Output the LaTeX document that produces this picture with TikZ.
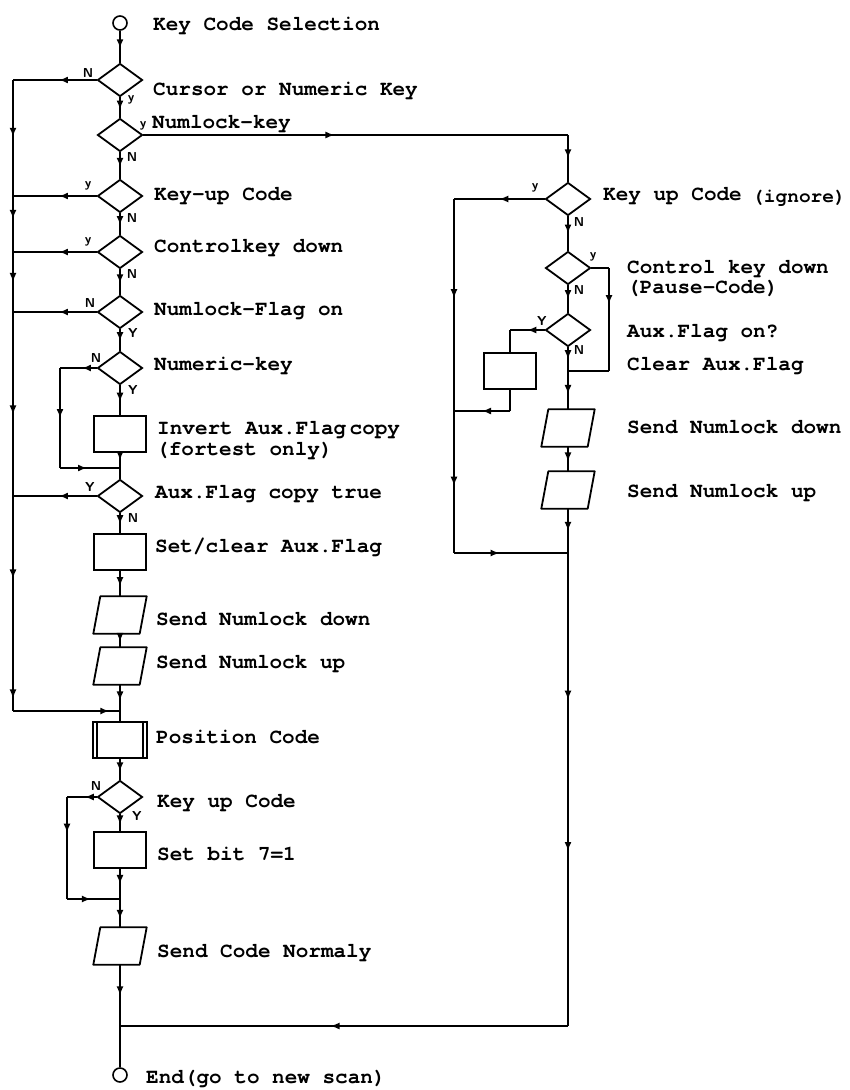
\documentclass[tikz,border=0pt]{standalone}
\usepackage{fontspec}
\newfontfamily\cursorfont{texgyrecursor-bold.otf}
\usetikzlibrary{arrows.meta, shapes.geometric, decorations.markings}

\begin{document}
\begin{tikzpicture}[
  x=1pt, y=-1pt,
  >={Latex[length=9pt, width=7pt]},
  txt/.style={anchor=base west, inner sep=0pt, font=\cursorfont\fontsize{21}{24}\selectfont},
  yn/.style={inner sep=0pt, font=\fontsize{13}{14}\selectfont\sffamily\bfseries},
  decision/.style={diamond, draw, line width=1.8pt, minimum width=45pt, minimum height=33pt, inner sep=0pt},
  process/.style={rectangle, draw, line width=1.8pt, minimum width=52pt, minimum height=36pt, inner sep=0pt},
  io/.style={rectangle, minimum width=46pt, minimum height=37pt, inner sep=0pt,
             append after command={\pgfextra{\draw[line width=1.8pt, line join=round]
               ([xshift=-3.5pt]\tikzlastnode.south west) -- ([xshift=3.5pt]\tikzlastnode.north west)
               -- ([xshift=3.5pt]\tikzlastnode.north east) -- ([xshift=-3.5pt]\tikzlastnode.south east) -- cycle;}}},
  subproc/.style={process, minimum width=54pt, path picture={
      \draw[line width=1.5pt] ([xshift=4pt]path picture bounding box.north west) -- ([xshift=4pt]path picture bounding box.south west)
                              ([xshift=-4pt]path picture bounding box.north east) -- ([xshift=-4pt]path picture bounding box.south east);}},
  terminal/.style={circle, draw, line width=1.6pt, minimum size=14pt, inner sep=0pt},
  flow/.style={line width=1.6pt},
  arrat/.style={postaction={decorate, decoration={markings, mark=at position #1 with {\arrow{>}}}}},
]
\useasboundingbox (0,0) rectangle (849,1090);

% ---- left column ----
\node[terminal] (start)  at (120,23)  {};
\node[decision] (d1)     at (120,80)  {};
\node[decision] (d2)     at (120,135) {};
\node[decision] (d3)     at (120,196) {};
\node[decision] (d4)     at (120,252) {};
\node[decision] (d5)     at (120,312) {};
\node[decision] (d6)     at (120,368) {};
\node[process]  (inv)    at (120,434) {};
\node[decision] (d7)     at (120,496) {};
\node[process]  (setclr) at (120,552) {};
\node[io]       (nldown) at (120,615) {};
\node[io]       (nlup)   at (120,666) {};
\node[subproc]  (pos)    at (120,740) {};
\node[decision] (d8)     at (120,797) {};
\node[process]  (bit7)   at (120,850) {};
\node[io]       (sendc)  at (120,946) {};
\node[terminal] (stop)   at (120,1075) {};

% ---- right column ----
\node[decision] (r1)    at (568,199) {};
\node[decision] (r2)    at (568,268) {};
\node[decision] (r3)    at (568,330) {};
\node[process]  (clr)   at (510,371) {};
\node[io]       (rdown) at (568,428) {};
\node[io]       (rup)   at (568,490) {};

% ---- texts ----
\node[txt] (t-start)  at (153,30)  {Key Code Selection};
\node[txt] (t-d1)     at (153,95)  {Cursor or Numeric Key};
\node[txt] (t-d2)     at (152,128) {Numlock-key};
\node[txt] (t-d3)     at (154,200) {Key-up Code};
\node[txt] (t-d4)     at (154,252) {Controlkey down};
\node[txt] (t-d5)     at (154,315) {Numlock-Flag on};
\node[txt] (t-d6)     at (154,370) {Numeric-key};
\node[txt] (t-inv)    at (157,434) {Invert Aux.Flag\,copy};
\node[txt] (t-inv2)   at (156,455) {(fortest only)};
\node[txt] (t-d7)     at (155,498) {Aux.Flag copy true};
\node[txt] (t-setclr) at (155,552) {Set/clear Aux.Flag};
\node[txt] (t-nldown) at (156,625) {Send Numlock down};
\node[txt] (t-nlup)   at (156,668) {Send Numlock up};
\node[txt] (t-pos)    at (156,743) {Position Code};
\node[txt] (t-d8)     at (157,807) {Key up Code};
\node[txt] (t-bit7)   at (157,860) {Set bit 7=1};
\node[txt] (t-sendc)  at (157,957) {Send Code Normaly};
\node[txt] (t-stop)   at (146,1083) {End(go to new scan)};
\node[txt] (t-r1)     at (603,200) {Key up Code};
\node[txt, font=\cursorfont\fontsize{19.5}{22}\selectfont] (t-r1b) at (752,202) {(ignore)};
\node[txt] (t-r2)     at (627,273) {Control key down};
\node[txt] (t-r2b)    at (627,293) {(Pause-Code)};
\node[txt] (t-r3)     at (627,337) {Aux.Flag on?};
\node[txt] (t-clr)    at (627,370) {Clear Aux.Flag};
\node[txt] (t-rdown)  at (627,433) {Send Numlock down};
\node[txt] (t-rup)    at (627,497) {Send Numlock up};

% ---- y / N labels ----
\node[yn] (l-d1n) at (88,73)   {N};
\node[yn] (l-d1y) at (131,100) {y};
\node[yn] (l-d2y) at (143,126) {y};
\node[yn] (l-d2n) at (132,157) {N};
\node[yn] (l-d3y) at (88,186)  {y};
\node[yn] (l-d3n) at (132,218) {N};
\node[yn] (l-d4y) at (88,242)  {y};
\node[yn] (l-d4n) at (132,274) {N};
\node[yn] (l-d5n) at (90,303)  {N};
\node[yn] (l-d5y) at (133,333) {Y};
\node[yn] (l-d6n) at (96,358)  {N};
\node[yn] (l-d6y) at (133,390) {Y};
\node[yn] (l-d7y) at (90,487)  {Y};
\node[yn] (l-d7n) at (133,518) {N};
\node[yn] (l-d8n) at (96,786)  {N};
\node[yn] (l-d8y) at (137,816) {Y};
\node[yn] (l-r1y) at (535,188) {y};
\node[yn] (l-r1n) at (579,222) {N};
\node[yn] (l-r2y) at (593,257) {y};
\node[yn] (l-r2n) at (579,290) {N};
\node[yn] (l-r3y) at (542,321) {Y};
\node[yn] (l-r3n) at (579,350) {N};

% ---- bends and joins ----
\coordinate (lbtop) at (13,80);
\coordinate (lb3)   at (13,196);
\coordinate (lb4)   at (13,252);
\coordinate (lb5)   at (13,312);
\coordinate (lb7)   at (13,496);
\coordinate (lbend) at (13,711);
\coordinate (jpos)  at (120,711);
\coordinate (nl1)   at (60,368);
\coordinate (nl2)   at (60,468);
\coordinate (j6)    at (120,468);
\coordinate (k1)    at (67,797);
\coordinate (k2)    at (67,899);
\coordinate (j8)    at (120,899);
\coordinate (jend)  at (120,1026);
\coordinate (rtop)  at (568,135);
\coordinate (rb1)   at (454,199);
\coordinate (rb2)   at (454,411);
\coordinate (rbend) at (454,553);
\coordinate (jr)    at (568,553);
\coordinate (r2a)   at (609,268);
\coordinate (r2b)   at (609,371);
\coordinate (j2)    at (568,371);
\coordinate (r3a)   at (510,330);
\coordinate (clrb)  at (510,411);
\coordinate (rbot)  at (568,1026);

% ---- main flow, left ----
\draw[flow, arrat=0.55] (start) -- (d1);
\draw[flow, arrat=0.6] (d1) -- (d2);
\draw[flow, arrat=0.55] (d2) -- (d3);
\draw[flow, arrat=0.55] (d3) -- (d4);
\draw[flow, arrat=0.55] (d4) -- (d5);
\draw[flow, arrat=0.55] (d5) -- (d6);
\draw[flow, arrat=0.55] (d6) -- (inv);
\draw[flow, arrat=0.5] (inv) -- (j6);
\draw[flow] (j6) -- (d7);
\draw[flow, arrat=0.55] (d7) -- (setclr);
\draw[flow, arrat=0.6] (setclr) -- (nldown);
\draw[flow, arrat=0.6] (nldown) -- (nlup);
\draw[flow, arrat=0.6] (nlup) -- (jpos);
\draw[flow] (jpos) -- (pos);
\draw[flow, arrat=0.6] (pos) -- (d8);
\draw[flow, arrat=0.6] (d8) -- (bit7);
\draw[flow, arrat=0.5] (bit7) -- (j8);
\draw[flow, arrat=0.7] (j8) -- (sendc);
\draw[flow, arrat=0.5] (sendc) -- (jend);
\draw[flow] (jend) -- (stop);

% ---- left bus ----
\draw[flow, arrat=0.45] (d1.west) -- (lbtop);
\draw[flow, arrat=0.09, arrat=0.22, arrat=0.32, arrat=0.53, arrat=0.79, arrat=0.98] (lbtop) -- (lbend);
\draw[flow, arrat=0.9] (lbend) -- (jpos);
\draw[flow, arrat=0.45] (d3.west) -- (lb3);
\draw[flow, arrat=0.45] (d4.west) -- (lb4);
\draw[flow, arrat=0.45] (d5.west) -- (lb5);
\draw[flow, arrat=0.45] (d7.west) -- (lb7);

% ---- loops ----
\draw[flow, arrat=0.4] (d6.west) -- (nl1);
\draw[flow, arrat=0.5] (nl1) -- (nl2);
\draw[flow, arrat=0.45] (nl2) -- (j6);
\draw[flow, arrat=0.4] (d8.west) -- (k1);
\draw[flow, arrat=0.35] (k1) -- (k2);
\draw[flow, arrat=0.45] (k2) -- (j8);

% ---- right column ----
\draw[flow, arrat=0.45] (d2.east) -- (rtop);
\draw[flow, arrat=0.5] (rtop) -- (r1);
\draw[flow, arrat=0.5] (r1) -- (r2);
\draw[flow, arrat=0.5] (r1.west) -- (rb1);
\draw[flow, arrat=0.28, arrat=0.81] (rb1) -- (rbend);
\draw[flow, arrat=0.4] (rbend) -- (jr);
\draw[flow] (r2.east) -- (r2a);
\draw[flow, arrat=0.35] (r2a) -- (r2b);
\draw[flow] (r2b) -- (j2);
\draw[flow, arrat=0.5] (r2) -- (r3);
\draw[flow, arrat=0.5] (r3.west) -- (r3a);
\draw[flow] (r3a) -- (clr);
\draw[flow] (clr) -- (clrb);
\draw[flow, arrat=0.5] (clrb) -- (rb2);
\draw[flow, arrat=0.5] (r3) -- (j2);
\draw[flow, arrat=0.6] (j2) -- (rdown);
\draw[flow, arrat=0.6] (rdown) -- (rup);
\draw[flow, arrat=0.5] (rup) -- (jr);
\draw[flow, arrat=0.31, arrat=0.63] (jr) -- (rbot);
\draw[flow, arrat=0.53] (rbot) -- (jend);

\end{tikzpicture}
\end{document}
